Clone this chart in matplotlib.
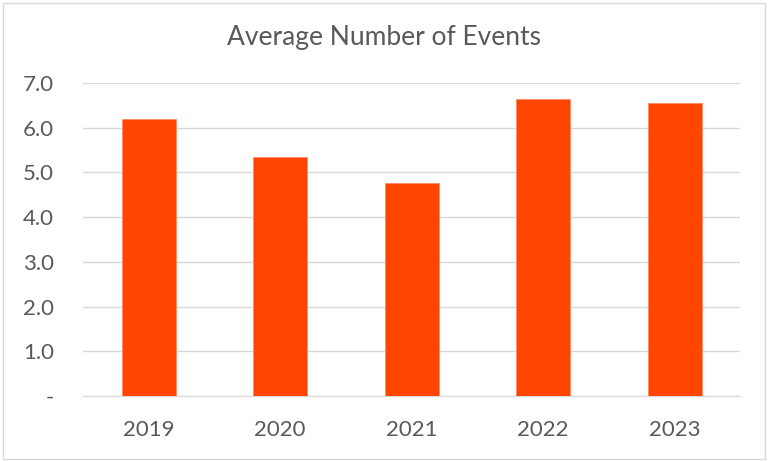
import matplotlib
matplotlib.use("Agg")
import matplotlib.pyplot as plt
from matplotlib.patches import Rectangle

years = ["2019", "2020", "2021", "2022", "2023"]
values = [6.19, 5.35, 4.77, 6.64, 6.55]
yticks = [0, 1, 2, 3, 4, 5, 6, 7]
ytick_labels = ["-", "1.0", "2.0", "3.0", "4.0", "5.0", "6.0", "7.0"]

plt.rcParams['font.family'] = ['Lato', 'DejaVu Sans']

fig = plt.figure(figsize=(7.68, 4.61), dpi=100)
ax = fig.add_axes([0.108, 0.141, 0.856, 0.679])

x = range(len(years))
ax.bar(x, values, width=0.41, color="#FF4500", edgecolor="#FF8a66", linewidth=0.6, zorder=3)
ax.set_xlim(-0.5, len(years) - 0.5)
ax.set_ylim(0, 7)
ax.set_yticks(yticks)
ax.set_yticklabels(ytick_labels)
ax.set_xticks(list(x))
ax.set_xticklabels(years)
ax.grid(axis="y", color="#D9D9D9", linewidth=1, zorder=0)
for s in ["top", "right", "left"]:
    ax.spines[s].set_visible(False)
ax.spines["bottom"].set_color("#D9D9D9")
ax.tick_params(axis="both", length=0, colors="#595959", labelsize=16)
ax.tick_params(axis="y", pad=21)
ax.tick_params(axis="x", pad=17)
for lab in ax.get_yticklabels():
    lab.set_horizontalalignment("right")

fig.text(0.5, 0.918, "Average Number of Events", ha="center", va="center",
         fontsize=19, color="#595959")

fig.patches.append(Rectangle((0.004, 0.004), 0.992, 0.99, transform=fig.transFigure,
                             fill=False, edgecolor="#D9D9D9", linewidth=1))

fig.savefig("out.png", dpi=100)
